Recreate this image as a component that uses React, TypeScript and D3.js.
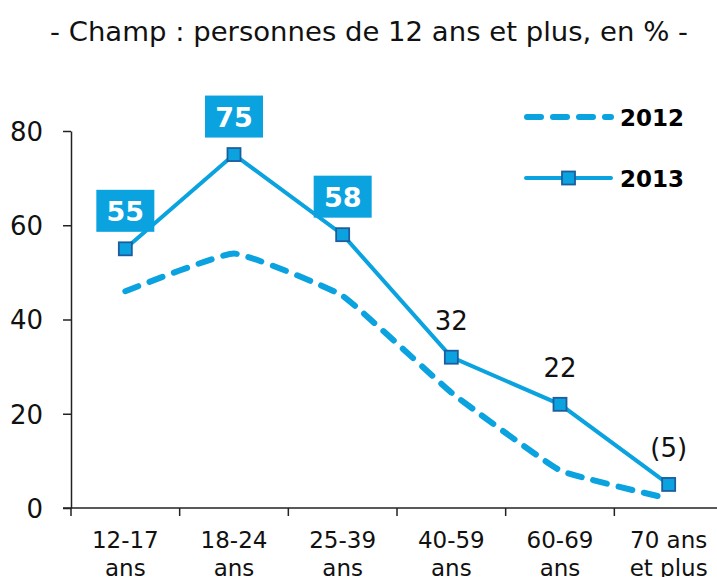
import React, { useEffect, useRef } from "react";
import * as d3 from "d3";

// age groups, two label lines each
const categories = ["12-17|ans", "18-24|ans", "25-39|ans", "40-59|ans", "60-69|ans", "70 ans|et plus"];
const values2012 = [46, 54, 45, 24.5, 8, 2];
const values2013 = [55, 75, 58, 32, 22, 5];
const labels2013 = ["55", "75", "58", "32", "22", "(5)"];
const boxed2013 = [true, true, true, false, false, false];
const yTicks = [0, 20, 40, 60, 80];

const BLUE = "#0aa3e0";
const FONT = "'DejaVu Sans', Verdana, sans-serif";

export default function App() {
  const ref = useRef<SVGSVGElement>(null);

  useEffect(() => {
    const svg = d3.select(ref.current);
    svg.selectAll("*").remove();

    const x = d3.scaleBand().domain(categories).range([71, 723]);
    const y = d3.scaleLinear().domain([0, 80]).range([508, 131]);
    const cx = (c: string) => (x(c) as number) + x.bandwidth() / 2;

    // title
    svg.append("text")
      .attr("x", 369).attr("y", 41)
      .attr("text-anchor", "middle")
      .style("font", `27px ${FONT}`)
      .attr("fill", "#111")
      .attr("textLength", 638)
      .attr("lengthAdjust", "spacingAndGlyphs")
      .text("- Champ : personnes de 12 ans et plus, en % -");

    // y axis
    const gy = svg.append("g").attr("transform", "translate(71,0)");
    gy.call(d3.axisLeft(y).tickValues(yTicks).tickSize(8).tickSizeOuter(0).tickPadding(20) as any);
    gy.select(".domain").attr("stroke", "#222").attr("stroke-width", 1.5);
    gy.selectAll(".tick line").attr("stroke", "#222").attr("stroke-width", 1.5);
    gy.selectAll(".tick text")
      .style("font", `26px ${FONT}`)
      .attr("fill", "#111")
      .attr("dy", "0.36em");

    // x axis
    const gx = svg.append("g");
    gx.append("line")
      .attr("x1", 63).attr("x2", 717).attr("y1", y(0)).attr("y2", y(0))
      .attr("stroke", "#222").attr("stroke-width", 1.5);
    gx.selectAll("line.tk")
      .data(categories)
      .join("line")
      .attr("class", "tk")
      .attr("x1", (d) => x(d) as number).attr("x2", (d) => x(d) as number)
      .attr("y1", y(0)).attr("y2", y(0) + 8)
      .attr("stroke", "#222").attr("stroke-width", 1.5);
    const xt = gx.selectAll("text")
      .data(categories)
      .join("text")
      .attr("text-anchor", "middle")
      .style("font", `23px ${FONT}`)
      .attr("fill", "#111");
    xt.each(function (d) {
      const parts = d.split("|");
      d3.select(this).selectAll("tspan")
        .data(parts)
        .join("tspan")
        .attr("x", cx(d))
        .attr("y", (_p, i) => 548 + i * 28)
        .text((p) => p);
    });

    // 2012 dashed line
    const line2012 = d3.line<number>()
      .x((_d, i) => cx(categories[i]))
      .y((d) => y(d))
      .curve(d3.curveCardinal.tension(0.65));
    svg.append("path")
      .attr("d", line2012(values2012))
      .attr("fill", "none")
      .attr("stroke", BLUE)
      .attr("stroke-width", 6)
      .attr("stroke-linecap", "round")
      .attr("stroke-dasharray", "14 12");

    // 2013 solid line
    const line2013 = d3.line<number>()
      .x((_d, i) => cx(categories[i]))
      .y((d) => y(d));
    svg.append("path")
      .attr("d", line2013(values2013))
      .attr("fill", "none")
      .attr("stroke", BLUE)
      .attr("stroke-width", 4);

    svg.selectAll("rect.mk")
      .data(values2013)
      .join("rect")
      .attr("class", "mk")
      .attr("x", (_d, i) => cx(categories[i]) - 6.5)
      .attr("y", (d) => y(d) - 6.5)
      .attr("width", 13).attr("height", 13)
      .attr("fill", BLUE)
      .attr("stroke", "#1d5d9e")
      .attr("stroke-width", 1.8);

    // labels for 2013
    values2013.forEach((v, i) => {
      const px = cx(categories[i]);
      const py = y(v);
      if (boxed2013[i]) {
        svg.append("rect")
          .attr("x", px - 29).attr("y", py - 59)
          .attr("width", 58).attr("height", 42)
          .attr("fill", BLUE);
        svg.append("text")
          .attr("x", px).attr("y", py - 28)
          .attr("text-anchor", "middle")
          .style("font", `bold 27px ${FONT}`)
          .attr("fill", "#fff")
          .text(labels2013[i]);
      } else {
        svg.append("text")
          .attr("x", px).attr("y", py - 27)
          .attr("text-anchor", "middle")
          .style("font", `26px ${FONT}`)
          .attr("fill", "#111")
          .text(labels2013[i]);
      }
    });

    // legend
    const lg = svg.append("g");
    lg.append("line")
      .attr("x1", 527).attr("x2", 611).attr("y1", 117).attr("y2", 117)
      .attr("stroke", BLUE).attr("stroke-width", 6)
      .attr("stroke-linecap", "round")
      .attr("stroke-dasharray", "14 12");
    lg.append("text")
      .attr("x", 620).attr("y", 126)
      .style("font", `bold 23px ${FONT}`)
      .attr("fill", "#000")
      .text("2012");
    lg.append("line")
      .attr("x1", 526).attr("x2", 611).attr("y1", 178).attr("y2", 178)
      .attr("stroke", BLUE).attr("stroke-width", 4)
      .attr("stroke-linecap", "round");
    lg.append("rect")
      .attr("x", 562).attr("y", 171.5).attr("width", 13).attr("height", 13)
      .attr("fill", BLUE).attr("stroke", "#1d5d9e").attr("stroke-width", 1.8);
    lg.append("text")
      .attr("x", 620).attr("y", 187)
      .style("font", `bold 23px ${FONT}`)
      .attr("fill", "#000")
      .text("2013");
  }, []);

  return (
    <div style={{ position: "absolute", left: 0, top: 0 }}>
      <svg ref={ref} width={717} height={577} style={{ display: "block", background: "#fff" }} />
    </div>
  );
}
